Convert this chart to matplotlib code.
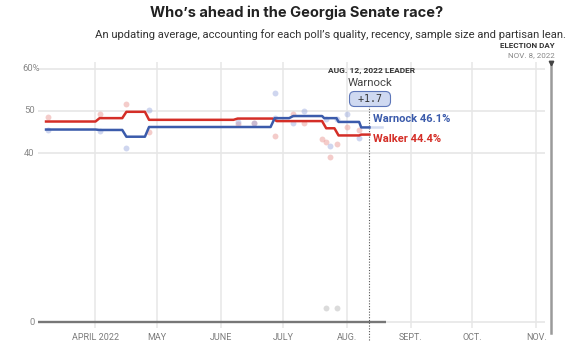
import pandas as pd
import matplotlib
matplotlib.use("Agg")
import matplotlib.pyplot as plt
from matplotlib.transforms import blended_transform_factory

# ── polling averages (step-like trend) ─────────────
trend_dates_dem = ["2022-03-08", "2022-04-01", "2022-04-03", "2022-04-14", "2022-04-16",
                   "2022-04-25", "2022-04-27", "2022-06-25", "2022-06-27", "2022-07-04",
                   "2022-07-06", "2022-07-20", "2022-07-21", "2022-07-27", "2022-07-28",
                   "2022-08-07", "2022-08-08", "2022-08-12"]
trend_dem = [45.6, 45.6, 45.5, 45.5, 43.9, 43.9, 46.2, 46.2, 48.3, 48.3,
             48.8, 48.8, 48.3, 48.3, 47.4, 47.4, 46.1, 46.1]

trend_dates_rep = ["2022-03-08", "2022-04-01", "2022-04-03", "2022-04-14", "2022-04-16",
                   "2022-04-25", "2022-04-27", "2022-06-07", "2022-06-09", "2022-06-26",
                   "2022-06-28", "2022-07-20", "2022-07-22", "2022-07-26", "2022-07-28",
                   "2022-08-07", "2022-08-08", "2022-08-12"]
trend_rep = [47.5, 47.5, 48.3, 48.3, 49.8, 49.8, 47.9, 47.9, 48.2, 48.2,
             47.6, 47.6, 45.9, 45.9, 44.2, 44.2, 44.4, 44.4]

# ── individual polls ───────────────────────────────
poll_dates_dem = ["2022-03-09", "2022-04-03", "2022-04-16", "2022-04-27", "2022-06-09",
                  "2022-06-17", "2022-06-27", "2022-06-27", "2022-07-06", "2022-07-11",
                  "2022-07-22", "2022-07-24", "2022-07-27", "2022-08-01", "2022-08-07"]
poll_dem = [45.5, 45.3, 41.2, 50.2, 47.3, 47.2, 54.2, 48.3, 47.1, 50.1,
            48.1, 41.8, 48.1, 49.3, 43.7]

poll_dates_rep = ["2022-03-09", "2022-04-03", "2022-04-16", "2022-04-27", "2022-06-09",
                  "2022-06-17", "2022-06-27", "2022-07-06", "2022-07-11", "2022-07-20",
                  "2022-07-22", "2022-07-24", "2022-07-27", "2022-08-01", "2022-08-07"]
poll_rep = [48.6, 49.3, 51.6, 45.1, 46.9, 47.2, 44.1, 49.3, 47.1, 43.3,
            42.7, 39.2, 42.2, 46.1, 45.5]

poll_dates_oth = ["2022-07-22", "2022-07-27"]
poll_oth = [3.2, 3.2]

month_ticks = ["2022-04-01", "2022-05-01", "2022-06-01", "2022-07-01",
               "2022-08-01", "2022-09-01", "2022-10-01", "2022-11-01"]
month_labels = ["APRIL 2022", "MAY", "JUNE", "JULY", "AUG.", "SEPT.", "OCT.", "NOV."]
y_ticks = [0, 40, 50, 60]

leader_date = "2022-08-12"
election_date = "2022-11-08"
leader_name = "Warnock"
leader_margin = "+1.7"
dem_label = "Warnock 46.1%"
rep_label = "Walker 44.4%"

# ── style ──────────────────────────────────────────
RED = '#d42e27'
BLUE = '#3b5bab'
SANS = ['Roboto', 'DejaVu Sans']
W, H = 584, 356

fig = plt.figure(figsize=(W / 100, H / 100), dpi=100)
ax = fig.add_axes([37.8 / W, 28 / H, 515 / W, 266 / H])
x0, x1 = pd.Timestamp("2022-03-04"), pd.Timestamp("2022-11-09")
grid_end = pd.Timestamp("2022-11-05")
ax.set_xlim(x0, x1)
ax.set_ylim(-1.42, 61.6)
for s in ax.spines.values():
    s.set_visible(False)
ax.set_yticks([])

# grid
for d in pd.to_datetime(month_ticks):
    ax.axvline(d, color='#e9e9e9', lw=1.2, zorder=0)
for v in y_ticks:
    ax.hlines(v, x0, grid_end, color='#e6e6e6', lw=1.2, zorder=0)
ax.hlines(0, x0, pd.Timestamp("2022-08-20"), color='#777777', lw=1.7, zorder=2)

# election day marker
ed = pd.Timestamp(election_date)
ax.plot([ed, ed], [-2.6, 61.4], color='#9a9a9a', lw=1.8, clip_on=False, zorder=2)
ax.plot([ed], [61.4], marker='v', ms=3.2, color='#444444', clip_on=False, zorder=3)

# leader date dotted line
ld = pd.Timestamp(leader_date)
ax.plot([ld, ld], [-4.3, 54.3], color='#555555', lw=0.8, ls=(0, (1, 1.5)),
        clip_on=False, zorder=3)

# polls
ax.scatter(pd.to_datetime(poll_dates_rep), poll_rep, s=18, color='#eb9a96', alpha=0.5, lw=0, zorder=1)
ax.scatter(pd.to_datetime(poll_dates_dem), poll_dem, s=18, color='#95a6dc', alpha=0.45, lw=0, zorder=1)
ax.scatter(pd.to_datetime(poll_dates_oth), poll_oth, s=18, color='#cccccc', alpha=0.7, lw=0, zorder=1)

# averages
ax.plot(pd.to_datetime(trend_dates_rep), trend_rep, color=RED, lw=1.8, zorder=4)
ax.plot(pd.to_datetime(trend_dates_dem), trend_dem, color=BLUE, lw=1.8, zorder=5)
ax.plot([ld, ld + pd.Timedelta(days=6)], [trend_dem[-1]] * 2, color='#d5ddf1', lw=1.8, zorder=3)

# axis labels
ax.set_xticks(pd.to_datetime(month_ticks))
ax.set_xticklabels(month_labels, fontsize=6.5, color='#7a7a7a', family=SANS)
ax.tick_params(axis='x', length=0, pad=3.5)

trans = blended_transform_factory(fig.transFigure, ax.transData)
for v in y_ticks[:-1]:
    ax.text(34.5 / W, v, str(v), transform=trans, ha='right', va='center',
            fontsize=6.8, color='#888888', family=SANS)
ax.text(22 / W, y_ticks[-1], f"{y_ticks[-1]}%", transform=trans, ha='left', va='center',
        fontsize=6.8, color='#888888', family=SANS)

# titles
fig.text(297 / W, 1 - 13 / H, "Who\u2019s ahead in the Georgia Senate race?", ha='center', va='center',
         fontsize=10.5, weight='bold', family=['Inter', 'DejaVu Sans'], color='#222222')
fig.text(566 / W, 1 - 35 / H,
         "An updating average, accounting for each poll\u2019s quality, recency, sample size and partisan lean.",
         ha='right', va='center', fontsize=8.1, family=SANS, color='#333333')
fig.text(555 / W, 1 - 45 / H, "ELECTION DAY", ha='right', va='center',
         fontsize=5.8, weight='bold', family=SANS, color='#333333')
fig.text(555 / W, 1 - 55 / H, "NOV. 8, 2022", ha='right', va='center',
         fontsize=5.8, family=SANS, color='#888888')

# leader box
fig.text(371 / W, 1 - 70 / H, "AUG. 12, 2022 LEADER", ha='center', va='center',
         fontsize=6, weight='bold', family=SANS, color='#333333')
fig.text(370 / W, 1 - 83 / H, leader_name, ha='center', va='center',
         fontsize=8.2, family=SANS, color='#444444')
fig.text(370 / W, 1 - 99 / H, " " + leader_margin + " ", ha='center', va='center',
         fontsize=7.2, family='DejaVu Sans Mono', color='#333333',
         bbox=dict(boxstyle='round,pad=0.25,rounding_size=0.5', fc='#cfd9f1', ec='#5d76b9', lw=0.8))

# end labels
fig.text(373 / W, 1 - 119 / H, dem_label, ha='left', va='center', fontsize=8,
         weight='bold', color=BLUE, family=SANS)
fig.text(373 / W, 1 - 139 / H, rep_label, ha='left', va='center', fontsize=8,
         weight='bold', color=RED, family=SANS)

fig.savefig("out.png", dpi=100, facecolor='white')
